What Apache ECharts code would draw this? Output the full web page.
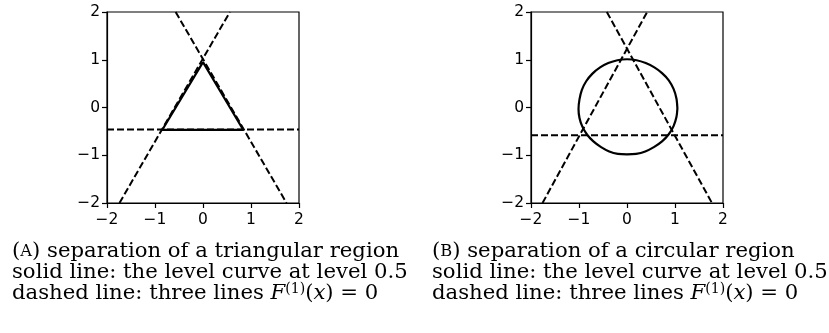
<!DOCTYPE html>
<html><head><meta charset="utf-8">
<script src="https://cdn.jsdelivr.net/npm/echarts@6/dist/echarts.min.js"></script>
<style>html,body{margin:0;padding:0;background:#fff}#c{width:829px;height:333px}</style>
</head><body><div id="c"></div>
<script>
// ---- data ----
const axisTicks = [-2, -1, 0, 1, 2];
// panel A: triangular region
const triLevelCurve = [[0, 0.95], [0.84, -0.47], [-0.85, -0.47], [0, 0.95]];
const triLineA = [[-1.74, -2], [0.56, 2]];
const triLineB = [[-0.57, 2], [1.74, -2]];
const triLineC = [[-2, -0.46], [2, -0.46]];
// panel B: circular region
const circLevelCurve = [
  [1.05, -0.02], [1.03, 0.19], [0.97, 0.39], [0.87, 0.57], [0.73, 0.72], [0.57, 0.84],
  [0.39, 0.93], [0.20, 0.99], [0, 1.01], [-0.20, 0.99], [-0.39, 0.93], [-0.56, 0.84],
  [-0.72, 0.71], [-0.85, 0.55], [-0.94, 0.37], [-0.99, 0.17], [-1.01, -0.03], [-0.99, -0.22],
  [-0.93, -0.40], [-0.83, -0.57], [-0.70, -0.71], [-0.54, -0.83], [-0.37, -0.92], [-0.19, -0.97],
  [0, -0.98], [0.19, -0.97], [0.38, -0.92], [0.56, -0.83], [0.73, -0.71], [0.87, -0.56],
  [0.97, -0.39], [1.03, -0.20], [1.05, -0.02]
];
const circLineA = [[-1.76, -2], [0.42, 2]];
const circLineB = [[-0.42, 2], [1.77, -2]];
const circLineC = [[-2, -0.58], [2, -0.58]];
const captionA = ['(', 'A', ') separation of a triangular region'];
const captionB = ['(', 'B', ') separation of a circular region'];
const captionLine2 = 'solid line: the level curve at level 0.5';
const captionLine3 = 'dashed line: three lines ';

// ---- chart ----
const chart = echarts.init(document.getElementById('c'), null, {renderer: 'canvas'});
const minusFmt = v => String(v).replace('-', '\u2212');
function mkX(i) {
  return {
    gridIndex: i, type: 'value', min: axisTicks[0], max: axisTicks[axisTicks.length - 1], interval: 1,
    axisLine: {show: true, onZero: false, lineStyle: {color: '#000', width: 1.2}},
    axisTick: {show: true, length: 5, inside: false, lineStyle: {color: '#000', width: 1.2}},
    axisLabel: {color: '#000', fontFamily: 'DejaVu Sans', fontSize: 15.5, margin: 9, formatter: minusFmt},
    splitLine: {show: false}
  };
}
function mkY(i) {
  return {
    gridIndex: i, type: 'value', min: axisTicks[0], max: axisTicks[axisTicks.length - 1], interval: 1,
    axisLine: {show: true, onZero: false, lineStyle: {color: '#000', width: 1.2}},
    axisTick: {show: true, length: 5, inside: false, lineStyle: {color: '#000', width: 1.2}},
    axisLabel: {color: '#000', fontFamily: 'DejaVu Sans', fontSize: 15.5, margin: 7, formatter: minusFmt},
    splitLine: {show: false}
  };
}
function solid(data, i, smooth) {
  return {type: 'line', xAxisIndex: i, yAxisIndex: i, data: data, symbol: 'none', smooth: smooth ? 0.3 : false,
    clip: true, lineStyle: {color: '#000', width: 2.2, type: 'solid'}, silent: true, animation: false};
}
function dashed(data, i) {
  return {type: 'line', xAxisIndex: i, yAxisIndex: i, data: data, symbol: 'none',
    clip: true, lineStyle: {color: '#000', width: 2, type: [7, 3]}, silent: true, animation: false};
}
const serifFam = 'DejaVu Serif';
const FS = 21.2, LH = 20.8;
const rich = {
  n: {fontFamily: serifFam, fontSize: FS, lineHeight: LH, fill: '#000'},
  sc: {fontFamily: serifFam, fontSize: 16.3, lineHeight: LH, fill: '#000'},
  it: {fontFamily: serifFam, fontSize: FS, lineHeight: LH, fontStyle: 'italic', fill: '#000'},
  sup: {fontFamily: serifFam, fontSize: 14, lineHeight: 12, verticalAlign: 'top', fill: '#000'}
};
function caption(x, cap) {
  const t = '{n|' + cap[0] + '}{sc|' + cap[1] + '}{n|' + cap[2] + '}\n' +
    '{n|' + captionLine2 + '}\n' +
    '{n|' + captionLine3 + '}{it|F}{sup|(1)}{n|(}{it|x}{n|) = 0}';
  return {type: 'text', x: x, y: 241, silent: true,
    style: {text: t, rich: rich, fontFamily: serifFam, fontSize: FS, fill: '#000', align: 'left', verticalAlign: 'top'}};
}
chart.setOption({
  animation: false,
  grid: [
    {left: 107, top: 12, width: 192, height: 191, show: true, borderColor: '#000', borderWidth: 1.2, containLabel: false},
    {left: 531, top: 12, width: 192, height: 191, show: true, borderColor: '#000', borderWidth: 1.2, containLabel: false}
  ],
  xAxis: [mkX(0), mkX(1)],
  yAxis: [mkY(0), mkY(1)],
  series: [
    dashed(triLineA, 0), dashed(triLineB, 0), dashed(triLineC, 0), solid(triLevelCurve, 0, false),
    dashed(circLineA, 1), dashed(circLineB, 1), dashed(circLineC, 1), solid(circLevelCurve, 1, true)
  ],
  graphic: [caption(12, captionA), caption(432, captionB)]
});
</script></body></html>
